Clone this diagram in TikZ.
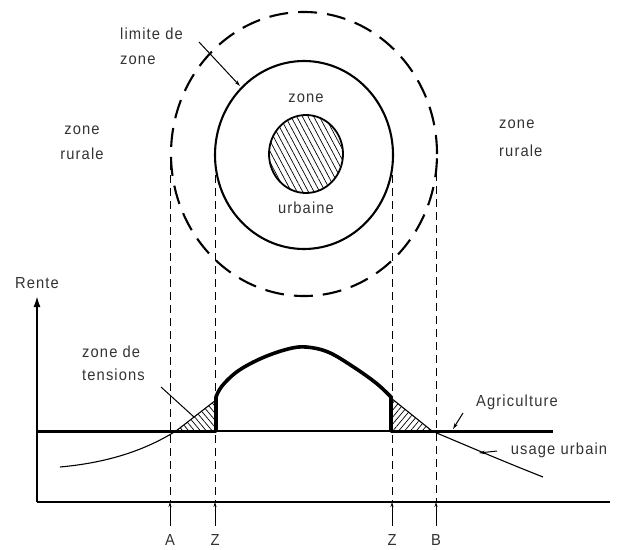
\documentclass[tikz,border=0pt]{standalone}
\usepackage{fontspec}
\setmainfont[LetterSpace=7,FakeStretch=0.92]{Liberation Sans}
\usetikzlibrary{arrows.meta,patterns.meta}
\begin{document}
\begin{tikzpicture}[x=1pt,y=-1pt,
  lbl/.style={font=\fontsize{16}{25}\selectfont, inner sep=0pt, text=black!80},
  circline/.style={line width=2.1pt},
  dashcirc/.style={line width=2.1pt, dash pattern=on 19pt off 10pt},
  dv/.style={line width=1pt, dash pattern=on 8pt off 5pt},
  thickline/.style={line width=3pt},
  thinline/.style={line width=1.1pt},
  rentcurve/.style={line width=3.6pt, line join=round, line cap=round},
  lead/.style={line width=1pt},
  leadarr/.style={line width=1pt, -{Stealth[length=6pt,width=3.5pt]}},
  hatchL/.style={pattern={Lines[angle=-50,distance=4.5pt,line width=0.7pt]}},
  hatchR/.style={pattern={Lines[angle=50,distance=4.5pt,line width=0.7pt]}},
  hatchC/.style={pattern={Lines[angle=-62,distance=5pt,line width=0.7pt]}},
  axis/.style={line width=1.8pt},
  upar/.style={line width=1pt, -{Stealth[length=5pt,width=3pt]}}
]
\useasboundingbox (0,0) rectangle (623,549);

% circles
\draw[dashcirc] (304,154) ellipse [x radius=133pt, y radius=142pt];
\draw[circline] (304,155) ellipse [x radius=89pt, y radius=94pt];
\draw[line width=1.8pt, hatchC] (306,154) ellipse [x radius=37pt, y radius=39pt];

% coordinates
\coordinate (tA) at (170,162);
\coordinate (tZ1) at (215,162);
\coordinate (tZ2) at (392,162);
\coordinate (tB) at (436,160);
\coordinate (xA) at (170,502);
\coordinate (xZ1) at (215,502);
\coordinate (xZ2) at (392,502);
\coordinate (xB) at (436,502);
\coordinate (bA) at (170,526);
\coordinate (bZ1) at (215,526);
\coordinate (bZ2) at (392,526);
\coordinate (bB) at (436,526);
\coordinate (o) at (37,502);
\coordinate (yend) at (37,296);
\coordinate (xend) at (610,502);
\coordinate (ag0) at (37,431);
\coordinate (agZ1) at (216,431);
\coordinate (agZ2) at (391,431);
\coordinate (ag1) at (553,431);

% dashed verticals
\draw[dv] (tA) -- (xA);
\draw[dv] (tZ1) -- (xZ1);
\draw[dv] (tZ2) -- (xZ2);
\draw[dv] (tB) -- (xB);

% axes
\draw[axis] (o) -- (xend);
\draw[axis, -{Latex[length=11pt,width=7pt]}] (o) -- (yend);

% hatched triangles
\fill[hatchL] (176,431) -- (216,431) -- (216,400) -- cycle;
\fill[hatchR] (391,398) -- (391,431) -- (432,431) -- cycle;

% agriculture line
\draw[thickline] (ag0) -- (agZ1);
\draw[thinline] (agZ1) -- (agZ2);
\draw[thickline] (agZ2) -- (ag1);

% urban use curves
\draw[thinline] (60,467) .. controls (115,462) and (150,447) .. (176,431) -- (216,400);
\draw[thinline] (391,398) -- (432,431) .. controls (465,445) and (505,462) .. (543,477);

% rent curve
\draw[rentcurve] (agZ1) -- plot[smooth, tension=0.6] coordinates {(216,397) (222,386) (238,371) (262,358) (288,349) (306,347) (328,352) (352,366) (376,383) (391,397)} -- (agZ2);

% bottom arrows and labels
\draw[upar] (bA) -- (xA);
\draw[upar] (bZ1) -- (xZ1);
\draw[upar] (bZ2) -- (xZ2);
\draw[upar] (bB) -- (xB);
\node[lbl] (lA) at (170,540) {A};
\node[lbl] (lZ1) at (215,540) {Z};
\node[lbl] (lZ2) at (392,540) {Z};
\node[lbl] (lB) at (436,540) {B};

% labels
\node[lbl, align=left, anchor=west] (limite) at (120,46) {limite de\\zone};
\coordinate (limA) at (199,42);
\coordinate (limB) at (240,86);
\draw[leadarr] (limA) -- (limB);

\node[lbl, align=center] (zrL) at (82,143) {zone\\rurale};
\node[lbl, align=left, anchor=west] (zrR) at (499,138) {zone\\[3pt]rurale};
\node[lbl] (zc) at (306,98) {zone};
\node[lbl] (ub) at (306,208) {urbaine};
\node[lbl] (rente) at (37,283) {Rente};

\node[lbl, align=left, anchor=west, font=\fontsize{16}{23}\selectfont] (zt) at (82,363) {zone de\\tensions};
\coordinate (ztA) at (161,387);
\coordinate (ztB) at (194,417);
\draw[lead] (ztA) -- (ztB);

\node[lbl] (agri) at (517,402) {Agriculture};
\coordinate (agA) at (463,413);
\coordinate (agB) at (453,429);
\draw[leadarr] (agA) -- (agB);

\node[lbl] (uu) at (559,450) {usage urbain};
\coordinate (uuA) at (497,451);
\coordinate (uuB) at (479,453);
\draw[leadarr] (uuA) -- (uuB);
\end{tikzpicture}
\end{document}
